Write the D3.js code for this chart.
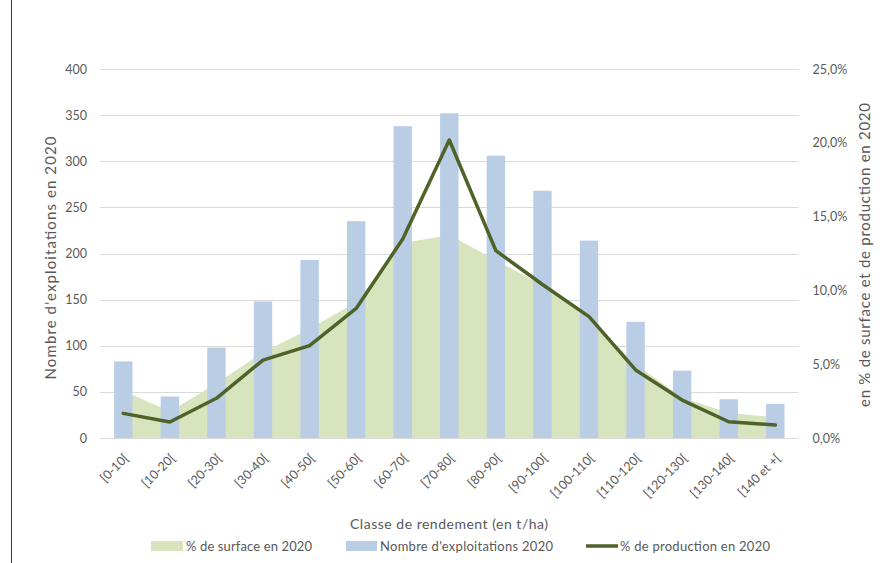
<!DOCTYPE html>
<html>
<head>
<meta charset="utf-8">
<script src="https://cdn.jsdelivr.net/npm/d3@7"></script>
<style>
  html, body { margin: 0; padding: 0; background: #fff; }
  svg { display: block; }
  text { font-family: Lato, "Open Sans", sans-serif; fill: #595959; }
</style>
</head>
<body>
<svg id="chart" width="896" height="563"></svg>
<script>
// ---- data ----
const categories = ["[0-10[", "[10-20[", "[20-30[", "[30-40[", "[40-50[", "[50-60[", "[60-70[", "[70-80[",
  "[80-90[", "[90-100[", "[100-110[", "[110-120[", "[120-130[", "[130-140[", "[140 et +["];
const nbExploitations = [83, 45, 98, 148, 193, 235, 338, 352, 306, 268, 214, 126, 73, 42, 37];
const pctSurface = [3.2, 1.8, 3.7, 5.8, 7.4, 9.2, 13.2, 13.75, 12.05, 10.35, 8.1, 5.0, 2.75, 1.7, 1.4];
const pctProduction = [1.67, 1.08, 2.69, 5.28, 6.26, 8.78, 13.48, 20.19, 12.69, 10.4, 8.22, 4.61, 2.57, 1.1, 0.88];
const leftTicks = [0, 50, 100, 150, 200, 250, 300, 350, 400];
const rightTicks = [0, 5, 10, 15, 20, 25];
const labels = {
  left: "Nombre d'exploitations en 2020",
  right: "en % de surface et de production en 2020",
  x: "Classe de rendement (en t/ha)",
  legend: ["% de surface en 2020", "Nombre d'exploitations 2020", "% de production en 2020"]
};

// ---- layout ----
const svg = d3.select("#chart");
const L = 100, R = 798.6, T = 69, B = 438;
const colBar = "#b9cde5", colArea = "#d7e4bd", colLine = "#4f6228", colGrid = "#d9d9d9";

const x = d3.scaleBand().domain(categories).range([L, R]).paddingInner(0.605).paddingOuter(0.3025);
const cx = c => x(c) + x.bandwidth() / 2;
const yL = d3.scaleLinear().domain([0, 400]).range([B, T]);
const yR = d3.scaleLinear().domain([0, 25]).range([B, T]);

// left frame line
svg.append("line").attr("x1", 11.5).attr("x2", 11.5).attr("y1", 0).attr("y2", 563)
  .attr("stroke", "#3a3a3a").attr("stroke-width", 1);

// gridlines
svg.append("g").selectAll("line").data(leftTicks).join("line")
  .attr("x1", L).attr("x2", R)
  .attr("y1", d => Math.round(yL(d)) + 0.5).attr("y2", d => Math.round(yL(d)) + 0.5)
  .attr("stroke", colGrid).attr("stroke-width", 1);

// left axis labels
const gl = svg.append("g").attr("transform", `translate(${L},0)`)
  .call(d3.axisLeft(yL).tickValues(leftTicks).tickSize(0).tickPadding(13));
gl.select(".domain").remove();
gl.selectAll("text").style("font-size", "12.5px").style("fill", "#595959").style("font-family", "Lato, sans-serif");

// right axis labels
const fmt = d => d.toFixed(1).replace(".", ",") + "%";
const gr = svg.append("g").attr("transform", `translate(${R},0)`)
  .call(d3.axisRight(yR).tickValues(rightTicks).tickFormat(fmt).tickSize(0).tickPadding(14));
gr.select(".domain").remove();
gr.selectAll("text").style("font-size", "12.5px").style("fill", "#595959").style("font-family", "Lato, sans-serif");

// area (% surface) from first to last category centre
const area = d3.area().x((d, i) => cx(categories[i])).y0(yR(0)).y1(d => yR(d));
svg.append("path").datum(pctSurface).attr("d", area).attr("fill", colArea);

// bars
svg.append("g").selectAll("rect").data(nbExploitations).join("rect")
  .attr("x", (d, i) => x(categories[i]))
  .attr("width", x.bandwidth())
  .attr("y", d => yL(d))
  .attr("height", d => yL(0) - yL(d))
  .attr("fill", colBar);

// line (% production)
const line = d3.line().x((d, i) => cx(categories[i])).y(d => yR(d));
svg.append("path").datum(pctProduction).attr("d", line)
  .attr("fill", "none").attr("stroke", colLine).attr("stroke-width", 3.5)
  .attr("stroke-linejoin", "round").attr("stroke-linecap", "round");

// x tick labels rotated
const gx = svg.append("g").attr("transform", `translate(0,${B})`)
  .call(d3.axisBottom(x).tickSize(0).tickPadding(0));
gx.select(".domain").remove();
gx.selectAll(".tick text")
  .attr("text-anchor", "end")
  .attr("y", 0).attr("dy", 0)
  .attr("transform", "translate(6,21) rotate(-45)")
  .style("font-size", "12.5px").style("fill", "#595959").style("font-family", "Lato, sans-serif");

// axis titles
function fitText(sel, len) {
  sel.attr("textLength", len).attr("lengthAdjust", "spacing");
  return sel;
}
fitText(svg.append("text").attr("transform", `translate(55.5,258) rotate(-90)`)
  .attr("text-anchor", "middle").style("font-size", "15px").text(labels.left), 243);
fitText(svg.append("text").attr("transform", `translate(870,255) rotate(-90)`)
  .attr("text-anchor", "middle").style("font-size", "15px").text(labels.right), 304);
fitText(svg.append("text").attr("x", 449).attr("y", 529)
  .attr("text-anchor", "middle").style("font-size", "14px").text(labels.x), 198);

// legend
const lg = svg.append("g");
lg.append("rect").attr("x", 151).attr("y", 541).attr("width", 32).attr("height", 10).attr("fill", colArea);
fitText(lg.append("text").attr("x", 186).attr("y", 551).style("font-size", "13px").text(labels.legend[0]), 126);
lg.append("rect").attr("x", 346).attr("y", 541).attr("width", 31).attr("height", 10).attr("fill", colBar);
fitText(lg.append("text").attr("x", 380).attr("y", 551).style("font-size", "13px").text(labels.legend[1]), 173);
lg.append("line").attr("x1", 586).attr("x2", 618).attr("y1", 546).attr("y2", 546)
  .attr("stroke", colLine).attr("stroke-width", 3.5);
fitText(lg.append("text").attr("x", 620).attr("y", 551).style("font-size", "13px").text(labels.legend[2]), 150);
</script>
</body>
</html>
